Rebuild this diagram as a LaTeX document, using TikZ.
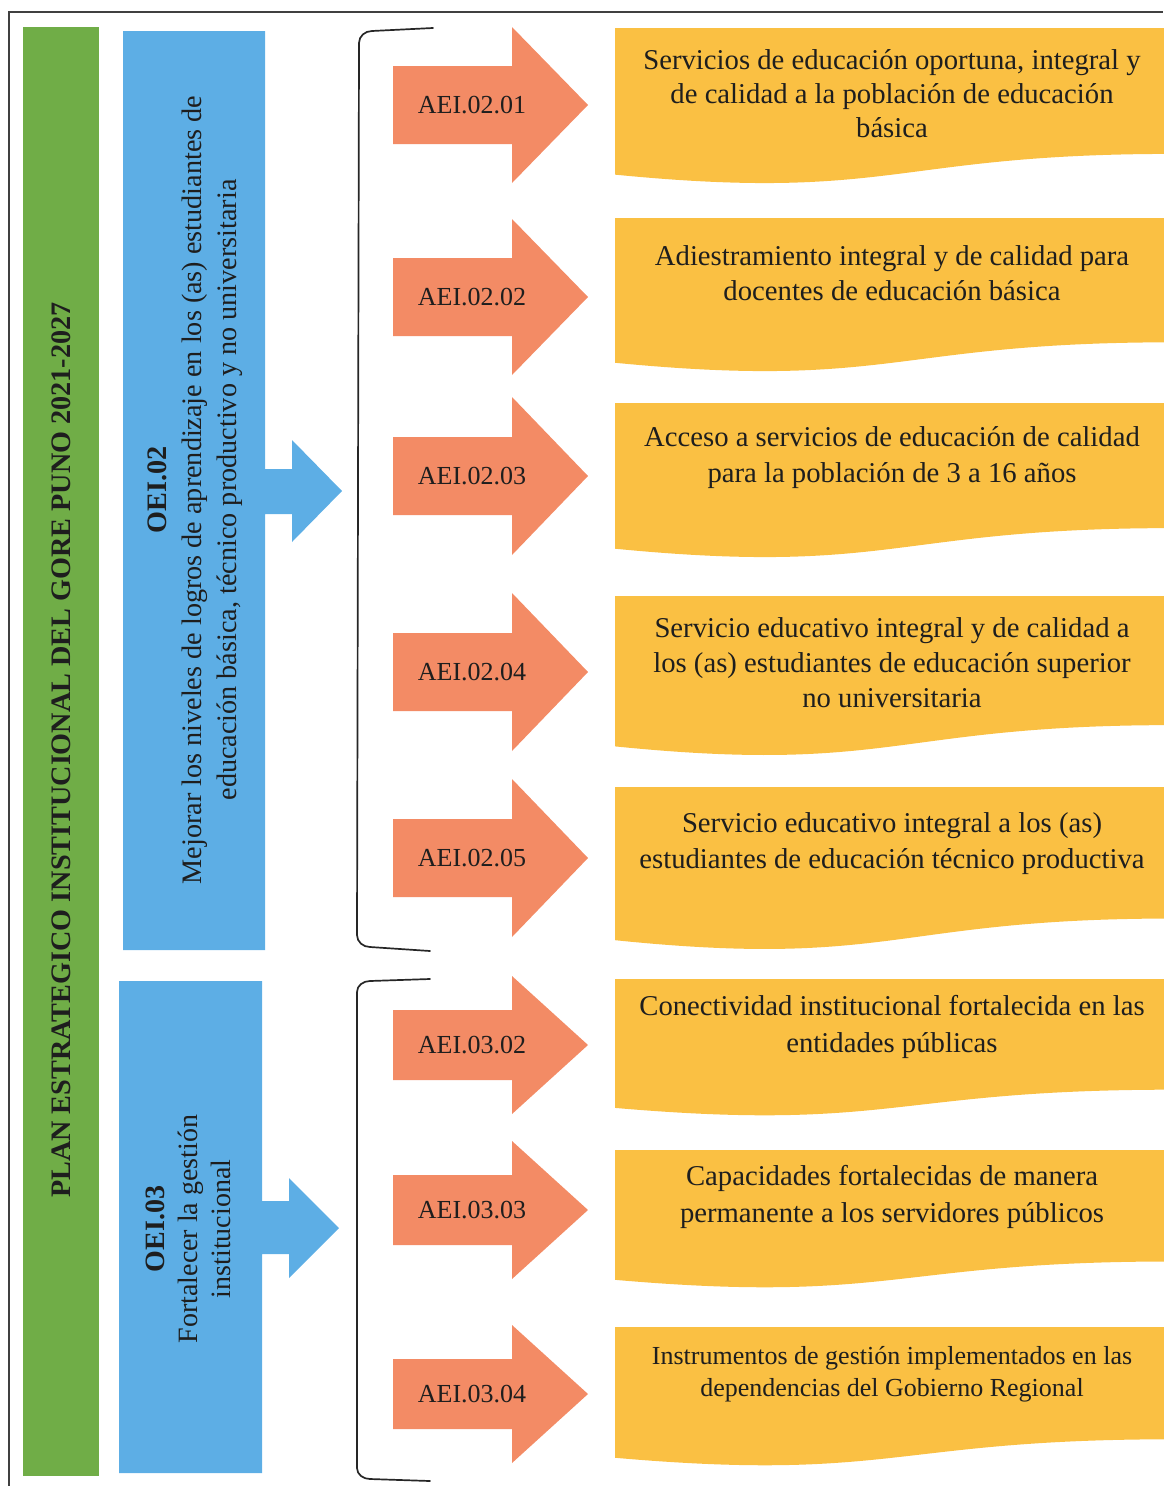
\documentclass[tikz,border=0pt]{standalone}
\usepackage{fontspec}
\setmainfont{Liberation Serif}
\usepackage{tikz}
\usetikzlibrary{scopes,calc}
\definecolor{planverde}{RGB}{112,173,71}
\definecolor{oeiazul}{RGB}{93,174,229}
\definecolor{aeinaranja}{RGB}{243,139,101}
\definecolor{docamarillo}{RGB}{250,192,67}
\definecolor{tinta}{RGB}{30,30,30}
% documento con borde inferior ondulado: #1 = arriba, #2 = alto
\def\drawdoc#1#2{
   \fill[docamarillo] (615,#1) -- (1172,#1) -- (1172,{#1+0.802*#2})
     .. controls (893,{#1+0.802*#2}) and (893,{#1+1.108*#2}) .. (615,{#1+0.934*#2}) -- cycle;
}
% flecha naranja: #1 = centro, #2 = media cabeza, #3 = medio cuerpo
\def\drawaei#1#2#3{
   \fill[aeinaranja] (393,{#1-#3}) -- (512,{#1-#3}) -- (512,{#1-#2})
     -- (588,#1) -- (512,{#1+#2}) -- (512,{#1+#3}) -- (393,{#1+#3}) -- cycle;
}
\begin{document}
\begin{tikzpicture}[
    x = 1pt, y = -1pt,
    every node/.style = {text=tinta, inner sep=0pt},
    aeilbl/.style = {font=\fontsize{26}{32}\selectfont},
    doclbl/.style = {align=center},
    oeilbl/.style = {align=center, rotate=90},
    brace/.style  = {line width=1.7pt, black!85, line cap=round}
]
\useasboundingbox (0,0) rectangle (1163,1486);

% marco
\draw[line width=1.4pt, black!75] (9,1486) -- (9,12) -- (1163,12);

% plan
\fill[planverde] (23,27) rectangle (99,1476);
\node[rotate=90, font=\bfseries\fontsize{28.2}{34}\selectfont] (plan) at (61,750)
   {PLAN ESTRATEGICO INSTITUCIONAL DEL GORE PUNO 2021-2027};

% objetivos
\fill[oeiazul] (123,31) -- (265,31) -- (265,469) -- (292,469) -- (292,440)
   -- (342,491) -- (292,542) -- (292,514) -- (265,514) -- (265,950) -- (123,950) -- cycle;
\node[oeilbl, font=\fontsize{28.2}{35}\selectfont] (oei-2) at (195,490)
   {\textbf{OEI.02}\\Mejorar los niveles de logros de aprendizaje en los (as) estudiantes de\\
    educación básica, técnico productivo y no universitaria};

\fill[oeiazul] (119,981) -- (262,981) -- (262,1201) -- (289,1201) -- (289,1178)
   -- (339,1228) -- (289,1278) -- (289,1254) -- (262,1254) -- (262,1473) -- (119,1473) -- cycle;
\node[oeilbl, font=\fontsize{28}{33}\selectfont] (oei-3) at (188,1229)
   {\textbf{OEI.03}\\Fortalecer la gestión\\institucional};

% llaves
\draw[brace] (433,28) -- (372,31) to[out=180,in=90] (359,43) -- (357,935)
   to[out=-90,in=180] (370,947) -- (430,951);
\draw[brace] (430,979) -- (370,981) to[out=180,in=90] (357,992) -- (357,1468)
   to[out=-90,in=180] (370,1479) -- (430,1481);

% acciones
\foreach[count=\n] \yc/\hh/\hs/\code in {105/78/39/AEI.02.01, 297/78/39/AEI.02.02,
     476/79/39/AEI.02.03, 672/79/39/AEI.02.04, 858/79/39/AEI.02.05,
     1045/69/35/AEI.03.02, 1210/69/35/AEI.03.03, 1394/69/35/AEI.03.04}
{ \drawaei{\yc}{\hh}{\hs}
  \node[aeilbl] (aei-\n) at (472,\yc) {\code}; }

% documentos
\foreach[count=\n] \t/\h/\yt/\fs/\bs/\txt in {
   28/157/94/28.7/34/{Servicios de educación oportuna, integral y\\de calidad a la población de educación\\básica},
   218/155/273/28.7/35/{Adiestramiento integral y de calidad para\\docentes de educación básica},
   403/156/458/28.7/36/{Acceso a servicios de educación de calidad\\para la población de 3 a 16 años},
   596/161/663/28.7/35/{Servicio educativo integral y de calidad a\\los (as) estudiantes de educación superior\\no universitaria},
   787/164/844/28.7/36/{Servicio educativo integral a los (as)\\estudiantes de educación técnico productiva},
   979/138/1027/28.7/37/{Conectividad institucional fortalecida en las\\entidades públicas},
   1150/139/1197/28.7/37/{Capacidades fortalecidas de manera\\permanente a los servidores públicos},
   1327/140/1374/26/32/{Instrumentos de gestión implementados en las\\dependencias del Gobierno Regional}}
{ \drawdoc{\t}{\h}
  \node[doclbl, font=\fontsize{\fs}{\bs}\selectfont] (doc-\n) at (892,\yt) {\txt}; }

\end{tikzpicture}
\end{document}
